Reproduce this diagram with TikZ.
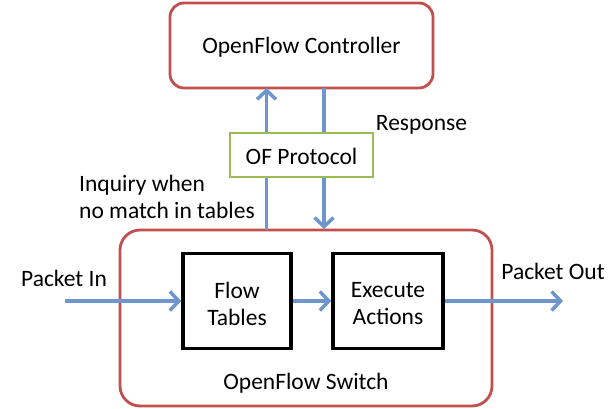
\documentclass[tikz,border=0pt]{standalone}
\usepackage{fontspec}
\setmainfont{Carlito}
\usetikzlibrary{arrows.meta}
\definecolor{boxred}{RGB}{192,80,77}
\definecolor{boxgreen}{RGB}{155,187,89}
\definecolor{arrowblue}{RGB}{110,150,205}
\begin{document}
\begin{tikzpicture}[x=1pt,y=-1pt,
  every node/.style={font=\fontsize{23.5}{27}\selectfont, inner sep=0pt},
  redbox/.style={draw=boxred, line width=2.8pt, rounded corners=14pt, fill=white},
  greenbox/.style={draw=boxgreen, line width=2.8pt, fill=white},
  blackbox/.style={draw=black, line width=3.5pt, fill=white, align=center},
  flow/.style={draw=arrowblue, line width=3.5pt, -{Straight Barb[length=9pt,width=19pt,line width=3.5pt]}},
  lbl/.style={anchor=center}]
\useasboundingbox (0,0) rectangle (614,409);
% boxes
\node[redbox, minimum width=263pt, minimum height=85pt] (ctrl) at (301.5,45.5) {};
\node[lbl] (ctrltext) at (301.5,47) {OpenFlow Controller};
\node[redbox, rounded corners=20pt, minimum width=372pt, minimum height=176pt] (sw) at (306,318) {};
\node[lbl] (swtext) at (306,383) {OpenFlow Switch};
% vertical arrow anchors
\coordinate (upS) at (266.5,230);
\coordinate (upC) at (266.5,88);
\coordinate (dnC) at (324,88);
\coordinate (dnS) at (324,229);
\draw[flow] (upS) -- (upC);
\draw[flow] (dnC) -- (dnS);
\node[greenbox, minimum width=143pt, minimum height=44pt] (of) at (301.5,155) {};
\node[lbl] (oftext) at (301.5,156) {OF Protocol};
\node[lbl] (resp) at (421.5,125) {Response};
\node[anchor=west, align=left] (inq) at (79,196.5) {Inquiry when\\no match in tables};
% inner boxes
\node[blackbox, minimum width=108pt, minimum height=95pt] (ft) at (237,301) {};
\node[lbl, align=center] (fttext) at (237,303.5) {Flow\\Tables};
\node[blackbox, minimum width=110pt, minimum height=95pt] (ea) at (388,301) {};
\node[lbl, align=center] (eatext) at (388,303.5) {Execute\\Actions};
\coordinate (inStart) at (65,301);
\coordinate (outEnd) at (563,301);
\draw[flow] (inStart) -- (ft.west);
\draw[flow] (ft.east) -- (ea.west);
\draw[flow] (ea.east) -- (outEnd);
\node[lbl] (pin) at (64,278) {Packet In};
\node[lbl] (pout) at (553,271) {Packet Out};
\end{tikzpicture}
\end{document}
